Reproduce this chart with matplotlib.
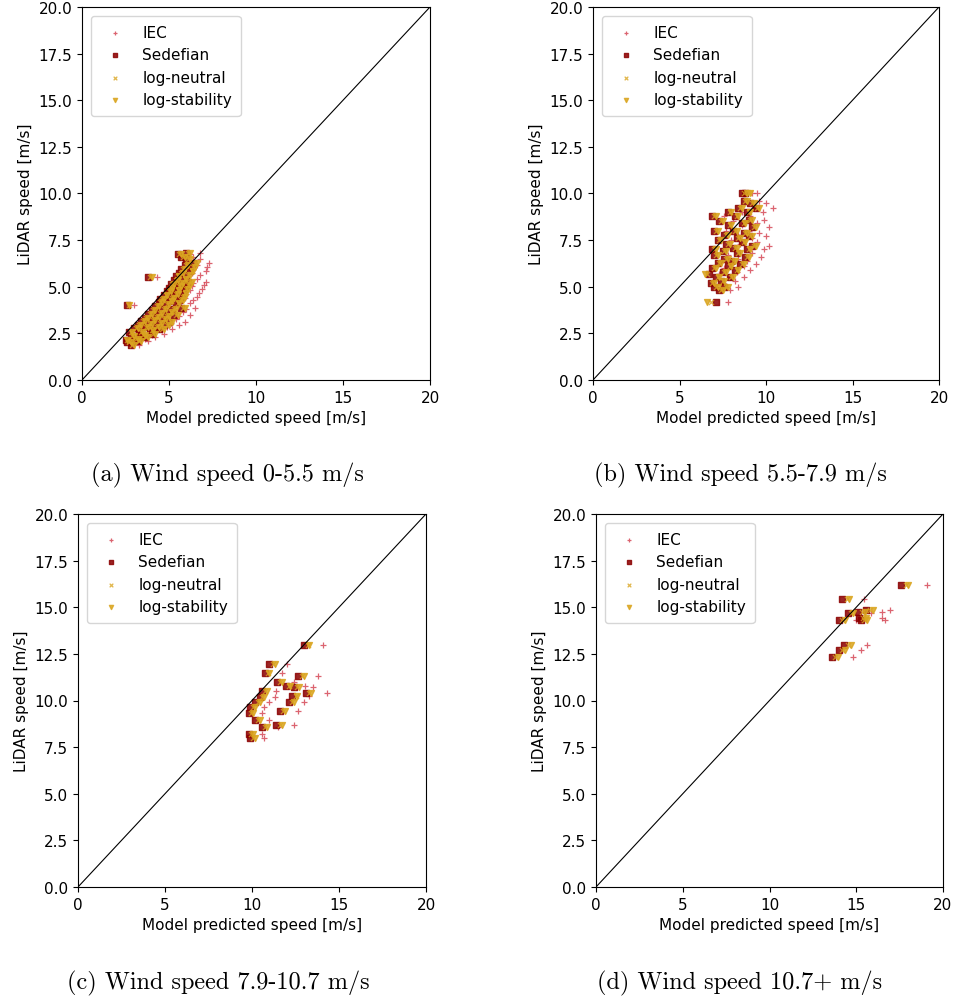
import matplotlib
matplotlib.use("Agg")
import matplotlib.pyplot as plt

# ---------------- data ----------------
# Panel (a) wind speed 0-5.5 m/s
lidar_a = [1.90, 2.03, 2.08, 2.17, 2.22, 2.29, 2.36, 2.43, 2.47, 2.55,
           2.60, 2.66, 2.71, 2.78, 2.83, 2.86, 2.93, 2.97, 3.02, 3.06,
           3.11, 3.16, 3.22, 3.27, 3.33, 3.38, 3.42, 3.47, 3.55, 3.61,
           3.66, 3.74, 3.79, 3.83, 3.88, 4.02, 3.95, 4.07, 4.12, 4.17,
           4.24, 4.28, 4.36, 4.41, 4.46, 4.55, 4.62, 4.67, 4.75, 4.81,
           4.86, 4.94, 5.03, 5.08, 5.15, 5.22, 5.27, 5.36, 5.43, 5.50,
           5.57, 5.63, 5.74, 5.82, 5.94, 6.05, 6.17, 6.30, 6.48, 6.60,
           6.75, 6.80]
sedefian_a = [2.8, 2.6, 3.2, 2.5, 3.0, 3.6, 2.8, 3.4, 4.0, 2.7,
              3.3, 3.9, 4.4, 3.0, 3.6, 4.2, 4.7, 3.2, 3.8, 4.4,
              5.0, 3.4, 4.0, 4.6, 3.6, 4.2, 4.8, 5.3, 3.8, 4.4,
              5.0, 4.0, 4.6, 5.2, 5.7, 2.6, 4.2, 4.8, 5.4, 4.4,
              5.0, 5.6, 4.5, 5.1, 5.7, 4.7, 5.3, 5.8, 4.9, 5.4,
              5.9, 5.0, 5.5, 6.0, 5.1, 5.6, 6.1, 5.3, 5.8, 3.8,
              5.4, 6.0, 5.6, 6.2, 5.7, 6.3, 5.9, 6.4, 6.0, 5.7,
              5.5, 6.0]
neutral_a = [2.9, 2.7, 3.3, 2.6, 3.1, 3.7, 2.9, 3.5, 4.1, 2.8,
             3.4, 4.0, 4.6, 3.1, 3.7, 4.3, 4.9, 3.3, 3.9, 4.5,
             5.1, 3.5, 4.1, 4.7, 3.7, 4.3, 4.9, 5.4, 3.9, 4.5,
             5.1, 4.1, 4.7, 5.3, 5.8, 2.7, 4.3, 4.9, 5.5, 4.5,
             5.1, 5.7, 4.6, 5.2, 5.8, 4.8, 5.4, 5.9, 5.0, 5.5,
             6.0, 5.1, 5.6, 6.1, 5.2, 5.7, 6.2, 5.4, 5.9, 3.9,
             5.5, 6.1, 5.7, 6.3, 5.8, 6.4, 6.0, 6.5, 6.1, 5.8,
             5.6, 6.1]
stability_a = [3.0, 2.8, 3.4, 2.6, 3.2, 3.8, 3.0, 3.6, 4.2, 2.9,
               3.5, 4.1, 4.7, 3.2, 3.8, 4.4, 5.0, 3.4, 4.0, 4.6,
               5.2, 3.6, 4.2, 4.8, 3.8, 4.4, 5.0, 5.5, 4.0, 4.6,
               5.2, 4.2, 4.8, 5.4, 5.9, 2.7, 4.4, 5.0, 5.6, 4.6,
               5.2, 5.8, 4.7, 5.3, 5.9, 4.9, 5.5, 6.0, 5.1, 5.6,
               6.1, 5.2, 5.7, 6.2, 5.3, 5.8, 6.3, 5.5, 6.0, 4.0,
               5.6, 6.2, 5.8, 6.4, 5.9, 6.5, 6.1, 6.6, 6.2, 5.9,
               5.7, 6.2]
iec_a = [3.3, 3.1, 3.8, 2.9, 3.6, 4.2, 3.3, 4.0, 4.7, 3.2,
         3.9, 4.6, 5.2, 3.5, 4.2, 4.9, 5.6, 3.7, 4.4, 5.1,
         5.9, 3.9, 4.6, 5.4, 4.1, 4.9, 5.6, 6.2, 4.3, 5.1,
         5.8, 4.5, 5.3, 6.0, 6.5, 3.0, 4.8, 5.5, 6.2, 4.9,
         5.7, 6.4, 5.1, 5.9, 6.6, 5.3, 6.0, 6.7, 5.5, 6.2,
         6.9, 5.6, 6.3, 7.0, 5.7, 6.4, 7.1, 5.9, 6.6, 4.3,
         6.1, 6.8, 6.3, 7.1, 6.4, 7.2, 6.6, 7.3, 6.8, 6.4,
         6.2, 6.8]

# Panel (b) wind speed 5.5-7.9 m/s
lidar_b = [4.2, 4.8, 5.0, 5.0, 5.2, 5.3, 5.5, 5.5, 5.7, 5.8,
           5.9, 6.0, 6.1, 6.2, 6.3, 6.4, 6.5, 6.6, 6.7, 6.8,
           6.9, 7.0, 7.0, 7.1, 7.2, 7.3, 7.4, 7.5, 7.6, 7.7,
           7.8, 7.9, 8.0, 8.0, 8.2, 8.3, 8.4, 8.5, 8.6, 8.8,
           8.8, 9.0, 9.0, 9.2, 9.2, 9.5, 9.6, 10.0, 10.0]
sedefian_b = [7.1, 7.3, 7.0, 7.6, 6.8, 7.4, 7.1, 7.9, 6.7, 7.5,
              8.2, 6.9, 7.8, 8.5, 7.2, 8.0, 7.6, 8.8, 7.0, 8.3,
              7.5, 8.9, 6.9, 8.1, 9.2, 7.7, 8.6, 7.2, 8.3, 9.0,
              7.6, 8.7, 7.0, 8.1, 9.2, 7.8, 8.6, 7.3, 9.0, 6.9,
              8.2, 8.9, 7.8, 9.4, 8.4, 9.1, 8.7, 8.8, 8.6]
neutral_b = [6.8, 7.4, 7.1, 7.7, 6.9, 7.5, 7.2, 8.0, 6.6, 7.6,
             8.3, 7.0, 7.9, 8.6, 7.3, 8.1, 7.7, 8.9, 7.1, 8.4,
             7.6, 9.0, 7.0, 8.2, 9.3, 7.8, 8.7, 7.3, 8.4, 9.1,
             7.7, 8.8, 7.1, 8.2, 9.3, 7.9, 8.7, 7.4, 9.1, 7.0,
             8.3, 9.0, 7.9, 9.5, 8.5, 9.2, 8.8, 9.0, 8.7]
stability_b = [6.6, 7.5, 7.2, 7.8, 7.0, 7.6, 7.3, 8.1, 6.5, 7.7,
               8.4, 7.1, 8.0, 8.7, 7.4, 8.2, 7.8, 9.0, 7.2, 8.5,
               7.7, 9.1, 7.1, 8.3, 9.4, 7.9, 8.8, 7.4, 8.5, 9.2,
               7.8, 8.9, 7.2, 8.3, 9.4, 8.0, 8.8, 7.5, 9.2, 7.1,
               8.4, 9.1, 8.0, 9.6, 8.6, 9.3, 8.9, 9.1, 8.9]
iec_b = [7.8, 7.9, 7.7, 8.4, 7.5, 8.2, 7.9, 8.7, 7.3, 8.3,
         9.1, 7.6, 8.7, 9.4, 8.0, 8.9, 8.4, 9.7, 7.8, 9.2,
         8.3, 9.9, 7.6, 9.0, 10.2, 8.5, 9.5, 8.0, 9.2, 10.0,
         8.4, 9.6, 7.7, 9.0, 10.2, 8.6, 9.5, 8.1, 9.9, 7.6,
         9.1, 9.8, 8.6, 10.4, 9.3, 10.0, 9.6, 9.5, 9.2]

# Panel (c) wind speed 7.9-10.7 m/s
lidar_c = [12.95, 11.95, 11.45, 11.3, 11.0, 10.8, 10.7, 10.4, 10.5, 10.25,
           9.9, 9.45, 10.2, 9.9, 9.65, 9.35, 8.95, 8.6, 8.2, 8.0, 8.7]
sedefian_c = [13.0, 11.0, 10.75, 12.65, 11.45, 11.95, 12.4, 13.1, 10.6, 12.3,
              12.1, 11.6, 10.45, 10.2, 9.9, 9.8, 10.2, 10.6, 9.8, 9.9, 11.4]
neutral_c = [13.2, 11.2, 10.9, 12.85, 11.6, 12.1, 12.6, 13.3, 10.75, 12.5,
             12.3, 11.8, 10.6, 10.35, 10.05, 9.95, 10.35, 10.75, 9.95, 10.05, 11.6]
stability_c = [13.3, 11.3, 11.0, 13.0, 11.7, 12.2, 12.7, 13.4, 10.85, 12.6,
               12.4, 11.9, 10.7, 10.45, 10.15, 10.05, 10.45, 10.85, 10.05, 10.15, 11.7]
iec_c = [14.1, 12.0, 11.7, 13.8, 12.4, 13.05, 13.5, 14.3, 11.4, 13.3,
         13.0, 12.65, 11.3, 11.0, 10.7, 10.6, 11.0, 11.5, 10.6, 10.7, 12.4]

# Panel (d) wind speed 10.7+ m/s
lidar_d = [16.2, 15.45, 14.7, 14.75, 14.85, 14.3, 14.4, 14.3, 13.0, 12.7, 12.35]
sedefian_d = [17.6, 14.2, 14.5, 15.1, 15.55, 14.0, 15.15, 15.25, 14.3, 14.0, 13.6]
neutral_d = [17.85, 14.45, 14.7, 15.35, 15.8, 14.2, 15.4, 15.45, 14.55, 14.2, 13.8]
stability_d = [18.0, 14.6, 14.8, 15.5, 15.95, 14.35, 15.55, 15.6, 14.7, 14.35, 13.95]
iec_d = [19.1, 15.45, 15.85, 16.5, 16.95, 15.0, 16.5, 16.65, 15.6, 15.3, 14.8]

captions = ["(a) Wind speed 0-5.5 m/s", "(b) Wind speed 5.5-7.9 m/s",
            "(c) Wind speed 7.9-10.7 m/s", "(d) Wind speed 10.7+ m/s"]
series_labels = ["IEC", "Sedefian", "log-neutral", "log-stability"]
x_ticks = [0, 5, 10, 15, 20]
y_ticks = [0, 2.5, 5, 7.5, 10, 12.5, 15, 17.5, 20]

panels = [
    (lidar_a, iec_a, sedefian_a, neutral_a, stability_a),
    (lidar_b, iec_b, sedefian_b, neutral_b, stability_b),
    (lidar_c, iec_c, sedefian_c, neutral_c, stability_c),
    (lidar_d, iec_d, sedefian_d, neutral_d, stability_d),
]

# ---------------- figure ----------------
W, H = 957, 1003
fig = plt.figure(figsize=(W / 100, H / 100), dpi=100)

# axes boxes in pixels: (left, top, right, bottom)
boxes = [(82, 8, 430, 381), (593, 8, 939, 381),
         (78, 515, 426, 888), (596, 515, 943, 888)]
caption_pos = [(227, 475), (740, 475), (218, 983), (740, 983)]

styles = [
    dict(marker="+", color="#d03040", s=22, linewidths=0.9, alpha=0.75),
    dict(marker="s", color="#8b0000", s=14, alpha=0.85),
    dict(marker="x", color="#daa520", s=14, linewidths=0.9, alpha=0.8),
    dict(marker="v", color="#daa520", s=18, alpha=0.85),
]

for i, (box, data) in enumerate(zip(boxes, panels)):
    l, t, r, b = box
    ax = fig.add_axes([l / W, 1 - b / H, (r - l) / W, (b - t) / H])
    lidar = data[0]
    for j, xs in enumerate(data[1:]):
        ax.scatter(xs, lidar, label=series_labels[j], **styles[j])
    ax.plot([0, 20], [0, 20], color="black", lw=0.8)
    ax.set_xlim(0, 20)
    ax.set_ylim(0, 20)
    ax.set_xticks(x_ticks)
    ax.set_yticks(y_ticks)
    ax.set_yticklabels([f"{v:.1f}" for v in y_ticks])
    ax.tick_params(labelsize=11)
    ax.set_xlabel("Model predicted speed [m/s]", fontsize=11)
    ax.set_ylabel("LiDAR speed [m/s]", fontsize=11)
    ax.legend(loc="upper left", fontsize=11, borderaxespad=0.6,
              markerscale=0.7, borderpad=0.55, handlelength=2.0)
    cx, cy = caption_pos[i]
    fig.text(cx / W, 1 - cy / H, captions[i], ha="center", va="center",
             fontsize=17.5, family="cmr10")

fig.savefig("out.png", dpi=100)
